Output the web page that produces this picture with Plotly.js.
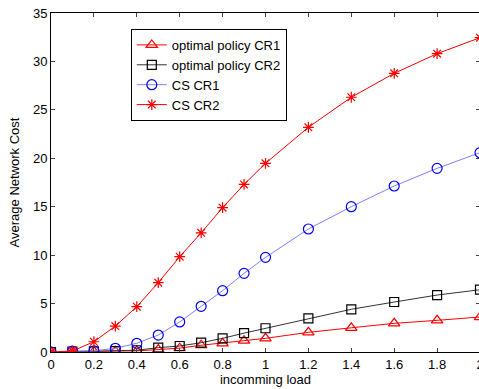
<!DOCTYPE html>
<html><head><meta charset="utf-8">
<script src="https://cdn.plot.ly/plotly-3.0.1.min.js"></script>
<style>html,body{margin:0;padding:0;overflow:hidden;background:#fff}#chart{width:481px;height:389px}</style>
</head><body><div id="chart"></div>
<script>
const load = [0,0.1,0.2,0.3,0.4,0.5,0.6,0.7,0.8,0.9,1.0,1.2,1.4,1.6,1.8,2.0];
const optCR1 = [0,0.03,0.05,0.08,0.12,0.25,0.4,0.7,0.9,1.17,1.41,2.03,2.5,2.96,3.27,3.61];
const optCR2 = [0,0.05,0.06,0.1,0.18,0.45,0.62,0.96,1.41,1.95,2.45,3.48,4.41,5.16,5.88,6.43];
const csCR1 = [0,0.1,0.12,0.38,0.9,1.75,3.1,4.72,6.33,8.12,9.77,12.7,15.0,17.14,18.96,20.58];
const csCR2 = [0,0.1,1.06,2.68,4.68,7.16,9.84,12.3,14.9,17.3,19.48,23.2,26.3,28.77,30.8,32.45];
const names = ["optimal policy CR1","optimal policy CR2","CS CR1","CS CR2"];
const xTicks = [0,0.2,0.4,0.6,0.8,1,1.2,1.4,1.6,1.8,2];
const yTicks = [0,5,10,15,20,25,30,35];

const traces = [
  {x:load,y:optCR1,name:names[0],mode:'lines+markers',line:{color:'#ff0000',width:1},
   marker:{symbol:'triangle-up-open',size:10,color:'#ff0000',line:{width:1.2}}},
  {x:load,y:optCR2,name:names[1],mode:'lines+markers',line:{color:'#333333',width:1},
   marker:{symbol:'square-open',size:9,color:'#000000',line:{width:1.2}}},
  {x:load,y:csCR1,name:names[2],mode:'lines+markers',line:{color:'#8080ff',width:1},
   marker:{symbol:'circle-open',size:10,color:'#0000ff',line:{width:1.2}}},
  {x:load,y:csCR2,name:names[3],mode:'lines+markers',line:{color:'#ff0000',width:1},
   marker:{symbol:'asterisk-open',size:9,color:'#ff0000',line:{width:1.2,color:'#ff0000'}}}
];
const font = {family:'Arial, Liberation Sans, sans-serif',size:13,color:'#000'};
const layout = {
  width:481,height:389,
  margin:{l:51,r:1,t:13,b:37},
  paper_bgcolor:'#fff',plot_bgcolor:'#fff',
  font:font,
  showlegend:true,
  legend:{x:0.186,y:0.953,xanchor:'left',yanchor:'top',bordercolor:'#000',borderwidth:1,
    bgcolor:'#fff',font:font,tracegroupgap:0,itemwidth:30},
  xaxis:{range:[0,2],tickvals:xTicks,ticktext:xTicks.map(String),ticks:'inside',ticklen:4,
    ticklabeloverflow:'allow',
    showline:true,linecolor:'#000',linewidth:1,mirror:'ticks',showgrid:false,zeroline:false,
    tickfont:font,title:{text:'incomming load',font:font,standoff:2}},
  yaxis:{range:[0,35],tickvals:yTicks,ticks:'inside',ticklen:4,
    showline:true,linecolor:'#000',linewidth:1,mirror:'ticks',showgrid:false,zeroline:false,
    tickfont:font,title:{text:'Average Network Cost',font:font,standoff:10}}
};
Plotly.newPlot('chart',traces,layout,{displayModeBar:false,staticPlot:true});
</script>
</body></html>
